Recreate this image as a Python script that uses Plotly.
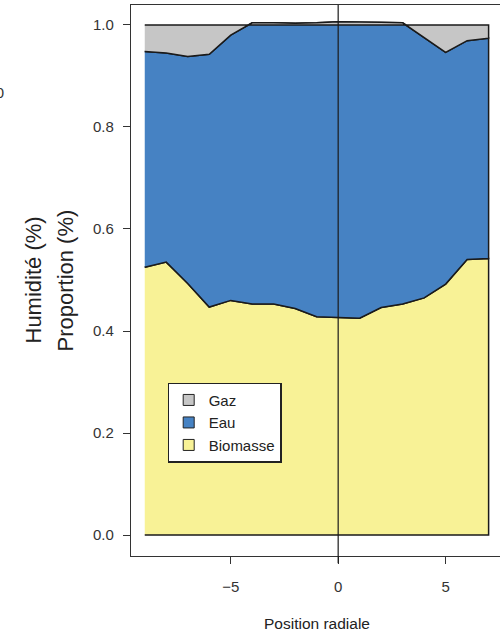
import plotly.graph_objects as go

# ---- data ----
position = [-9, -8, -7, -6, -5, -4, -3, -2, -1, 0, 1, 2, 3, 4, 5, 6, 7]
biomasse = [0.525, 0.535, 0.493, 0.447, 0.460, 0.453, 0.453, 0.444, 0.428, 0.426,
            0.425, 0.446, 0.453, 0.465, 0.492, 0.540, 0.542]
eau = [0.423, 0.410, 0.445, 0.4955, 0.520, 0.551, 0.551, 0.559, 0.576, 0.580,
       0.580, 0.559, 0.551, 0.510, 0.454, 0.429, 0.432]
gaz = [0.052, 0.055, 0.062, 0.0575, 0.020, -0.004, -0.004, -0.003, -0.004, -0.006,
       -0.005, -0.005, -0.004, 0.025, 0.054, 0.031, 0.026]
series_names = ["Biomasse", "Eau", "Gaz"]
series_colors = ["#f8f296", "#4682c3", "#c6c6c6"]
y_ticks = [0.0, 0.2, 0.4, 0.6, 0.8, 1.0]
y_tick_labels = ["0.0", "0.2", "0.4", "0.6", "0.8", "1.0"]
x_ticks = [-5, 0, 5]
x_tick_labels = ["\u22125", "0", "5"]

fig = go.Figure()

# stacked polygons
lower = [0.0] * len(position)
layers = [biomasse, eau, gaz]
for name, vals, col in zip(series_names, layers, series_colors):
    upper = [l + v for l, v in zip(lower, vals)]
    fig.add_trace(go.Scatter(
        x=position + position[::-1],
        y=upper + lower[::-1],
        fill="toself", fillcolor=col, mode="lines",
        line=dict(color="#1a1a1a", width=1.5),
        showlegend=False, hoverinfo="skip", name=name))
    lower = upper

# legend entries (Gaz, Eau, Biomasse)
for name, col in zip(series_names[::-1], series_colors[::-1]):
    fig.add_trace(go.Scatter(
        x=[None], y=[None], mode="markers", name=name,
        marker=dict(symbol="square", size=11, color=col,
                    line=dict(color="#222", width=1))))

fig.add_shape(type="line", xref="x", yref="paper", x0=0, x1=0, y0=-0.013, y1=1,
              line=dict(color="#1a1a1a", width=1.2))

axis_font = dict(family="Liberation Sans, Arial", size=15, color="#333")
fig.update_xaxes(range=[-9.64, 7.53], showgrid=False, zeroline=False,
                 showline=True, linecolor="#333", linewidth=1.2, mirror=True,
                 ticks="outside", ticklen=7, tickcolor="#333", tickwidth=1.2,
                 tickvals=x_ticks, ticktext=x_tick_labels, tickfont=axis_font,
                 ticklabelstandoff=10)
fig.update_yaxes(range=[-0.041, 1.039], showgrid=False, zeroline=False,
                 showline=True, linecolor="#333", linewidth=1.2,
                 ticks="outside", ticklen=7, tickcolor="#333", tickwidth=1.2,
                 tickvals=y_ticks, ticktext=y_tick_labels, tickfont=axis_font,
                 ticklabelstandoff=6)

title_font = dict(family="Liberation Sans, Arial", size=22, color="#222")
fig.add_annotation(text="Humidit\u00e9 (%)", xref="paper", yref="paper",
                   x=(33 - 131) / 369, y=0.5, textangle=-90, showarrow=False,
                   xanchor="center", yanchor="middle", font=title_font)
fig.add_annotation(text="Proportion (%)", xref="paper", yref="paper",
                   x=(65 - 131) / 369, y=0.5, textangle=-90, showarrow=False,
                   xanchor="center", yanchor="middle", font=title_font)
fig.add_annotation(text="Position radiale", xref="paper", yref="paper",
                   x=(317 - 131) / 369, y=(556 - 623) / 551, showarrow=False,
                   xanchor="center", yanchor="middle",
                   font=dict(family="Liberation Sans, Arial", size=15.5, color="#222"))
# clipped tick label of a companion panel at the far left
fig.add_annotation(text="100", xref="paper", yref="paper",
                   x=(5.5 - 131) / 369, y=1 - (93 - 5) / 551, showarrow=False,
                   xanchor="right", yanchor="middle", font=axis_font)

fig.update_layout(
    width=500, height=637,
    margin=dict(l=131, r=0, t=5, b=81),
    paper_bgcolor="white", plot_bgcolor="white",
    showlegend=True,
    legend=dict(x=(167.5 - 131) / 369, y=1 - (382.5 - 5) / 551,
                xanchor="left", yanchor="top",
                bgcolor="white", bordercolor="#222", borderwidth=1.2,
                font=dict(family="Liberation Sans, Arial", size=15, color="#222"),
                traceorder="normal", itemwidth=30, tracegroupgap=0),
)

fig.write_html("out.html", config={"displayModeBar": False},
               post_script="document.body.style.margin='0';document.body.style.overflow='hidden';")
